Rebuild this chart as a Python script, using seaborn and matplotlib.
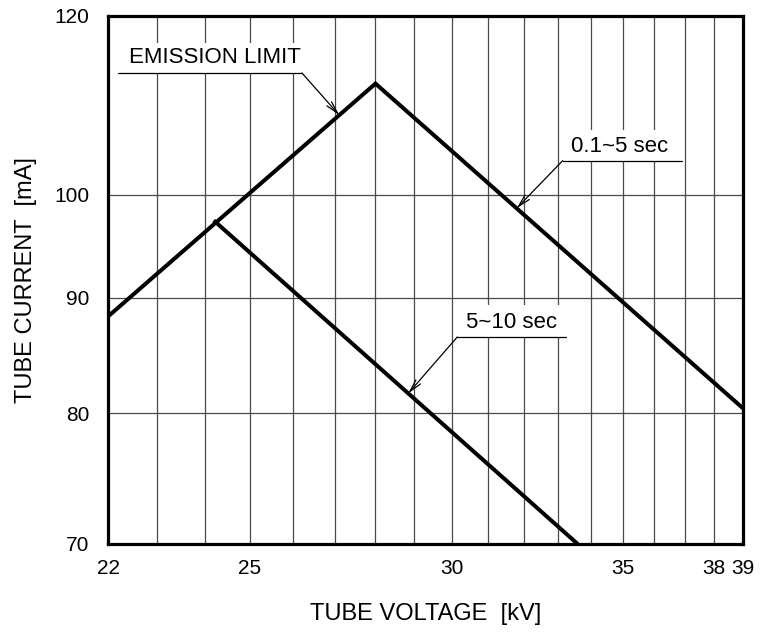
import numpy as np
import pandas as pd
import matplotlib
matplotlib.use("Agg")
import matplotlib.pyplot as plt
from matplotlib.ticker import FixedLocator, NullFormatter, NullLocator, FixedFormatter
from matplotlib.patches import Rectangle
import seaborn as sns

# ---- data ----
# emission limit rising part + 0.1~5 sec falling part (one polyline)
short_kv = [22.0, 28.0, 39.0]
short_ma = [88.3, 112.0, 80.4]
# 5~10 sec rating
long_kv = [24.2, 33.6]
long_ma = [97.4, 70.0]

x_ticks = [22, 25, 30, 35, 38, 39]
x_grid = list(range(22, 40))
y_ticks = [70, 80, 90, 100, 120]

sns.set_style("white")
plt.rcParams['font.family'] = ['Liberation Sans', 'DejaVu Sans']
plt.rcParams['text.color'] = 'black'
plt.rcParams['axes.labelcolor'] = 'black'
plt.rcParams['xtick.color'] = 'black'
plt.rcParams['ytick.color'] = 'black'

fig = plt.figure(figsize=(7.6, 6.35), dpi=100)
ax = fig.add_axes([108/760, 1-544/635, 635/760, 528/635])

df_short = pd.DataFrame({"kv": short_kv, "ma": short_ma})
df_long = pd.DataFrame({"kv": long_kv, "ma": long_ma})
sns.lineplot(data=df_short, x="kv", y="ma", sort=False, estimator=None,
             color="black", lw=2.9, ax=ax, zorder=4)
sns.lineplot(data=df_long, x="kv", y="ma", sort=False, estimator=None,
             color="black", lw=2.9, ax=ax, zorder=4)
for ln in ax.lines:
    ln.set_solid_joinstyle("miter")
    ln.set_solid_capstyle("butt")

ax.set_xscale("log")
ax.set_yscale("log")
ax.set_xlim(22, 39)
ax.set_ylim(70, 120)

ax.xaxis.set_major_locator(FixedLocator(x_ticks))
ax.xaxis.set_major_formatter(FixedFormatter([str(t) for t in x_ticks]))
ax.xaxis.set_minor_locator(FixedLocator(x_grid))
ax.xaxis.set_minor_formatter(NullFormatter())
ax.yaxis.set_major_locator(FixedLocator(y_ticks))
ax.yaxis.set_major_formatter(FixedFormatter([str(t) for t in y_ticks]))
ax.yaxis.set_minor_locator(NullLocator())

ax.grid(which="both", axis="x", color="#4a4a4a", lw=0.9, zorder=0.5)
ax.grid(which="major", axis="y", color="#4a4a4a", lw=0.9, zorder=0.5)
ax.set_axisbelow(True)

ax.tick_params(axis="both", which="both", length=0, labelsize=15,
               colors="black", labelcolor="black")
ax.tick_params(axis="x", pad=10.5)
ax.tick_params(axis="y", pad=13.5)

for sp in ax.spines.values():
    sp.set_linewidth(2.3)
    sp.set_color("black")
    sp.set_visible(True)
    sp.set_zorder(5)

ax.set_xlabel("TUBE VOLTAGE  [kV]", fontsize=17, color="black")
ax.set_ylabel("TUBE CURRENT  [mA]", fontsize=17, color="black")
ax.xaxis.set_label_coords(0.5, -0.112)
ax.yaxis.set_label_coords(-0.112, 0.5)


def curve_y(xv, kv, ma):
    return float(np.exp(np.interp(np.log(xv), np.log(kv), np.log(ma))))


def label(text, tx, ty, ul_x0, ul_x1, ul_y, box_top, tip_x, kv, ma, from_right=False):
    ax.add_patch(Rectangle((ul_x0, ul_y), ul_x1 - ul_x0, box_top - ul_y,
                           transform=ax.transAxes, facecolor="white",
                           edgecolor="none", zorder=2))
    ax.plot([ul_x0, ul_x1], [ul_y, ul_y], transform=ax.transAxes,
            color="black", lw=0.9, zorder=3)
    ax.text(tx, ty, text, transform=ax.transAxes, ha="center", va="center",
            fontsize=16, color="black", zorder=3)
    start = (ul_x1 if from_right else ul_x0, ul_y)
    ax.annotate("", xy=(tip_x, curve_y(tip_x, kv, ma)), xycoords="data",
                xytext=start, textcoords="axes fraction",
                arrowprops=dict(arrowstyle="->,head_length=0.9,head_width=0.22",
                                color="black", lw=0.9, shrinkA=0, shrinkB=0),
                zorder=3)


label("EMISSION LIMIT", 0.168, 0.922, 0.016, 0.3055, 0.892, 0.949,
      27.1, short_kv, short_ma, from_right=True)
label("0.1~5 sec", 0.805, 0.752, 0.716, 0.904, 0.726, 0.784,
      31.8, short_kv, short_ma)
label("5~10 sec", 0.636, 0.420, 0.550, 0.721, 0.392, 0.453,
      28.84, long_kv, long_ma)

fig.savefig("out.png", dpi=100)
